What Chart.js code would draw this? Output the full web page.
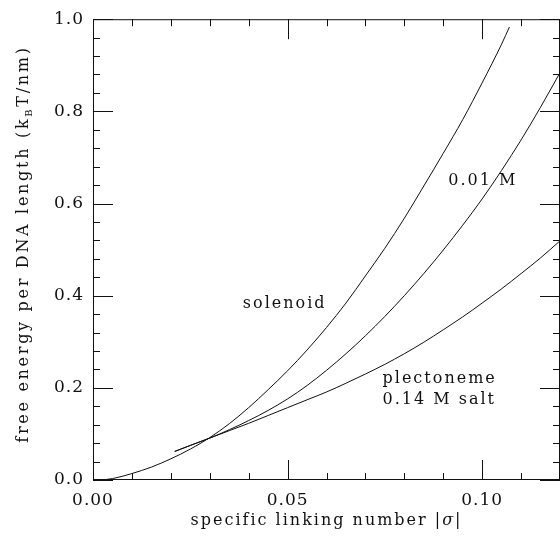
<!DOCTYPE html>
<html>
<head>
<meta charset="utf-8">
<script src="https://cdn.jsdelivr.net/npm/chart.js@4/dist/chart.umd.min.js"></script>
<style>
    html, body { margin: 0; padding: 0; background: #fff; }
    canvas { display: block; }
</style>
</head>
<body>
<canvas id="chart-free-energy" width="560" height="547"></canvas>
<script>
// solenoid branch
const solenoidSigma = [0.002, 0.005, 0.01, 0.015, 0.02, 0.025, 0.03, 0.035, 0.04, 0.045, 0.05, 0.055,
    0.06, 0.065, 0.07, 0.075, 0.08, 0.085, 0.09, 0.095, 0.1, 0.105, 0.107];
const solenoidEnergy = [0, 0.003, 0.014, 0.028, 0.046, 0.067, 0.092, 0.122, 0.157, 0.196, 0.237, 0.282,
    0.331, 0.384, 0.443, 0.503, 0.568, 0.638, 0.709, 0.782, 0.862, 0.946, 0.983];

// plectoneme branches, low and physiological salt
const plectonemeSigma = [0.021, 0.025, 0.03, 0.035, 0.04, 0.045, 0.05, 0.055, 0.06, 0.065, 0.07,
    0.075, 0.08, 0.085, 0.09, 0.095, 0.1, 0.105, 0.11, 0.115, 0.12];
const lowSaltEnergy = [0.062, 0.075, 0.091, 0.109, 0.129, 0.151, 0.176, 0.205, 0.238, 0.274, 0.313,
    0.355, 0.400, 0.448, 0.499, 0.553, 0.610, 0.672, 0.738, 0.809, 0.884];
const highSaltEnergy = [0.062, 0.075, 0.091, 0.107, 0.123, 0.140, 0.157, 0.174, 0.191, 0.210, 0.230,
    0.251, 0.274, 0.299, 0.326, 0.354, 0.384, 0.415, 0.448, 0.482, 0.519];

const xTicks = [0, 0.05, 0.10];
const yTicks = [0, 0.2, 0.4, 0.6, 0.8, 1.0];

// curve labels, placed in data units
const curveLabels = [
    { text: 'solenoid', x: 0.0385, y: 0.383 },
    { text: '0.01 M', x: 0.0913, y: 0.649 },
    { text: 'plectoneme', x: 0.0744, y: 0.219 },
    { text: '0.14 M salt', x: 0.0744, y: 0.174 },
];

const serif = '"DejaVu Serif", "Liberation Serif", serif';

const toPoints = (xs, ys) => xs.map((x, i) => ({ x: x, y: ys[i] }));

const curve = (data) => ({
    data: data,
    borderColor: '#111',
    borderWidth: 1,
    pointRadius: 0,
    fill: false,
    cubicInterpolationMode: 'monotone',
});

const frame = {
    id: 'frame',
    beforeDraw(chart) {
        chart.ctx.letterSpacing = '1px';
    },
    beforeDatasetsDraw(chart) {
        chart.ctx.letterSpacing = '0px';
    },
    afterDraw(chart) {
        const ctx = chart.ctx;
        const area = chart.chartArea;
        const xs = chart.scales.x;
        const ys = chart.scales.y;

        ctx.save();
        ctx.strokeStyle = '#111';
        ctx.lineWidth = 1;
        ctx.strokeRect(area.left + 0.5, area.top + 0.5, area.right - area.left - 1, area.bottom - area.top - 1);

        // inward ticks on all four sides
        ctx.beginPath();
        for (let i = 0; i <= 12; i++) {
            const px = Math.round(xs.getPixelForValue(i * 0.01)) + 0.5;
            const len = i % 5 === 0 ? 20 : 7;
            ctx.moveTo(px, area.bottom);
            ctx.lineTo(px, area.bottom - len);
            ctx.moveTo(px, area.top);
            ctx.lineTo(px, area.top + len);
        }
        for (let i = 0; i <= 25; i++) {
            const py = Math.round(ys.getPixelForValue(i * 0.04)) + 0.5;
            const len = i % 5 === 0 ? 20 : 7;
            ctx.moveTo(area.left, py);
            ctx.lineTo(area.left + len, py);
            ctx.moveTo(area.right, py);
            ctx.lineTo(area.right - len, py);
        }
        ctx.stroke();

        ctx.fillStyle = '#111';
        ctx.letterSpacing = '2px';
        ctx.font = '16px ' + serif;
        ctx.textAlign = 'left';
        ctx.textBaseline = 'middle';
        curveLabels.forEach((l) => {
            ctx.fillText(l.text, xs.getPixelForValue(l.x), ys.getPixelForValue(l.y));
        });

        // x axis title with italic sigma
        ctx.textBaseline = 'alphabetic';
        const xParts = [
            { t: 'specific linking number |', f: '16px ' + serif },
            { t: '\u03c3', f: 'italic 16px ' + serif },
            { t: '|', f: '16px ' + serif },
        ];
        let total = 0;
        xParts.forEach((p) => { ctx.font = p.f; total += ctx.measureText(p.t).width; });
        let cx = (area.left + area.right) / 2 - total / 2;
        xParts.forEach((p) => {
            ctx.font = p.f;
            ctx.fillText(p.t, cx, 525);
            cx += ctx.measureText(p.t).width;
        });

        // y axis title with k_B subscript
        ctx.letterSpacing = '2.7px';
        const yParts = [
            { t: 'free energy per DNA length (k', f: '16px ' + serif, dy: 0 },
            { t: 'B', f: '10px ' + serif, dy: 4 },
            { t: 'T/nm)', f: '16px ' + serif, dy: 0 },
        ];
        total = 0;
        yParts.forEach((p) => { ctx.font = p.f; total += ctx.measureText(p.t).width; });
        ctx.translate(28, 244);
        ctx.rotate(-Math.PI / 2);
        cx = -total / 2;
        yParts.forEach((p) => {
            ctx.font = p.f;
            ctx.fillText(p.t, cx, p.dy);
            cx += ctx.measureText(p.t).width;
        });
        ctx.restore();
    },
};

new Chart(document.getElementById('chart-free-energy'), {
    type: 'line',
    data: {
        datasets: [
            curve(toPoints(solenoidSigma, solenoidEnergy)),
            curve(toPoints(plectonemeSigma, lowSaltEnergy)),
            curve(toPoints(plectonemeSigma, highSaltEnergy)),
        ],
    },
    options: {
        responsive: false,
        animation: false,
        devicePixelRatio: 1,
        layout: {
            padding: { top: 10, right: 0, left: 0, bottom: 0 },
        },
        plugins: {
            legend: { display: false },
            tooltip: { enabled: false },
        },
        scales: {
            x: {
                type: 'linear',
                min: 0,
                max: 0.12,
                grid: { display: false, drawTicks: false },
                border: { display: false },
                afterFit: (scale) => { scale.height = 67; },
                afterBuildTicks: (scale) => { scale.ticks = xTicks.map((v) => ({ value: v })); },
                ticks: {
                    color: '#111',
                    padding: 10,
                    maxRotation: 0,
                    font: { family: serif, size: 17 },
                    callback: (v) => v.toFixed(2),
                },
            },
            y: {
                type: 'linear',
                min: 0,
                max: 1,
                grid: { display: false, drawTicks: false },
                border: { display: false },
                afterFit: (scale) => { scale.width = 93; },
                afterBuildTicks: (scale) => { scale.ticks = yTicks.map((v) => ({ value: v })); },
                ticks: {
                    color: '#111',
                    padding: 9,
                    font: { family: serif, size: 17 },
                    callback: (v) => v.toFixed(1),
                },
            },
        },
    },
    plugins: [frame],
});
</script>
</body>
</html>
